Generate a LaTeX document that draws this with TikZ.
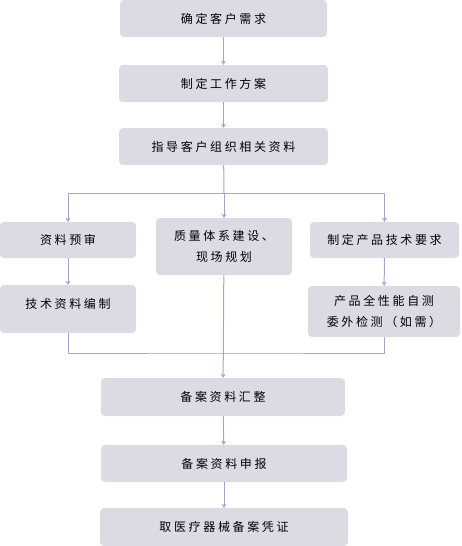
\documentclass[tikz,border=0pt]{standalone}
\usepackage{fontspec}
\newfontfamily\cjk[LetterSpace=22]{Noto Sans CJK SC}
\usetikzlibrary{arrows.meta}

\definecolor{boxfill}{HTML}{DCDBE4}
\definecolor{linecol}{HTML}{A9A4C6}

\tikzset{
  stepbox/.style={fill=boxfill, rounded corners=4pt, inner sep=0pt,
    font=\cjk\fontsize{12}{21}\selectfont, align=center},
  link/.style={draw=linecol, line width=1pt},
  arrow/.style={link, -{Stealth[length=4pt,width=5pt]}}
}

\begin{document}
\begin{tikzpicture}[x=1pt,y=-1pt]
\useasboundingbox (0,0) rectangle (461,546);

%% Top column
\node[stepbox, minimum width=207pt, minimum height=37pt] (need) at (223.5,18.5) {确定客户需求};
\node[stepbox, minimum width=209pt, minimum height=37pt] (plan) at (223.5,83.5) {制定工作方案};
\node[stepbox, minimum width=209pt, minimum height=37pt] (guide) at (223.5,146.5) {指导客户组织相关资料};

% three branches
\node[stepbox, minimum width=136pt, minimum height=36pt] (review) at (68,240) {资料预审};
\node[stepbox, minimum width=136pt, minimum height=57pt] (quality) at (224,246.5) {质量体系建设、\\现场规划};
\node[stepbox, minimum width=149pt, minimum height=36pt] (techreq) at (384.5,240) {制定产品技术要求};
\node[stepbox, minimum width=136pt, minimum height=48pt, text depth=12pt] (techdoc) at (68,309) {技术资料编制};
\node[stepbox, minimum width=152pt, minimum height=51pt] (detect) at (384,311.5) {产品全性能自测\\委外检测（如需）};

%% Bottom column
\node[stepbox, minimum width=244pt, minimum height=38pt] (sum) at (223,397) {备案资料汇整};
\node[stepbox, minimum width=246pt, minimum height=37pt] (submit) at (224,463.5) {备案资料申报};
\node[stepbox, minimum width=248pt, minimum height=38pt] (cert) at (224,527) {取医疗器械备案凭证};

\coordinate (split) at (224,193);
\coordinate (join) at (224,353);

% connectors
\draw[arrow] (need) -- (plan);
\draw[arrow] (plan) -- (guide);
\draw[link] (guide) -- (split);
\draw[arrow] (split) -| (review.north);
\draw[arrow] (split) -- (quality);
\draw[arrow] (split) -| (techreq.north);
\draw[arrow] (review) -- (techdoc);
\draw[arrow] (techreq) -- (detect);
\draw[link] (techdoc.south) |- (join) -| (detect.south);
\draw[arrow] (quality) -- (sum);
\draw[arrow] (sum) -- (submit);
\draw[arrow] (submit) -- (cert);

\end{tikzpicture}
\end{document}
